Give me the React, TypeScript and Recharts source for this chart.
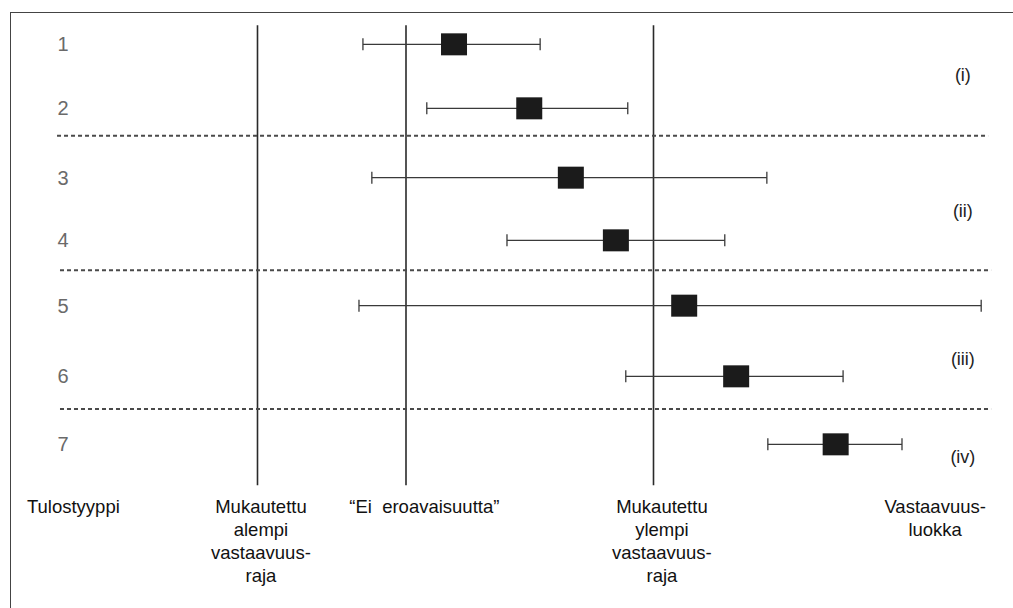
import React from 'react';
import { ComposedChart, Scatter, XAxis, YAxis, ErrorBar, ReferenceLine } from 'recharts';

// ---- data ----
const rowLabels = ['1', '2', '3', '4', '5', '6', '7'];
const rowPos = [1.0, 1.96, 3.0, 3.94, 4.92, 5.98, 7.0];
const estimates = [0.97, 2.49, 3.33, 4.24, 5.62, 6.67, 8.68];
const lowerCI = [-0.87, 0.42, -0.69, 2.04, -0.95, 4.44, 7.31];
const upperCI = [2.71, 4.48, 7.29, 6.44, 11.62, 8.83, 10.02];

const marginLower = -3;
const noDifference = 0;
const marginUpper = 5;
const vLineTop = 0.715;
const vLineBottom = 7.615;

const separatorPos = [2.37, 4.39, 6.47];
const separatorStart = [-7.05, -6.99, -6.99];
const separatorEnd = [11.76, 11.82, 11.82];

const groupLabels = ['(i)', '(ii)', '(iii)', '(iv)'];
const groupPos = [1.46, 3.5, 5.72, 7.19];
const groupX = 11.25;

const rowLabelX = -6.93;

const bottomLabels = [
  ['Tulostyyppi'],
  ['Mukautettu', 'alempi', 'vastaavuus-', 'raja'],
  ['\u201cEi  eroavaisuutta\u201d'],
  ['Mukautettu', 'ylempi', 'vastaavuus-', 'raja'],
  ['Vastaavuus-', 'luokka'],
];
const bottomLabelX = [-6.72, -2.93, 0.37, 5.17, 10.69];
const bottomLabelY = 7.93;

// ---- derived tables ----
const studyData = rowLabels.map((label, i) => ({
  label,
  x: estimates[i],
  y: rowPos[i],
  err: [estimates[i] - lowerCI[i], upperCI[i] - estimates[i]],
}));
const rowLabelData = rowLabels.map((label, i) => ({ x: rowLabelX, y: rowPos[i], label }));
const groupData = groupLabels.map((label, i) => ({ x: groupX, y: groupPos[i], label }));
const bottomData = bottomLabels.map((lines, i) => ({ x: bottomLabelX[i], y: bottomLabelY, lines }));
const vLines = [marginLower, noDifference, marginUpper];

const FONT = '"Liberation Sans", Arial, Helvetica, sans-serif';

const Square = (p: any) => (
  <rect x={p.cx - 13} y={p.cy - 11} width={26} height={22} fill="#1b1b1b" />
);

const RowText = (p: any) => (
  <text x={p.cx} y={p.cy} textAnchor="middle" dominantBaseline="central" fontSize={20} fill="#6a6a6a" fontFamily={FONT}>
    {p.payload.label}
  </text>
);

const GroupText = (p: any) => (
  <text x={p.cx} y={p.cy} textAnchor="middle" dominantBaseline="central" fontSize={18} fill="#222" fontFamily={FONT}>
    {p.payload.label}
  </text>
);

const BottomText = (p: any) => (
  <g>
    {p.payload.lines.map((line: string, i: number) => (
      <text key={i} x={p.cx} y={p.cy + i * 23} textAnchor="middle" dominantBaseline="central" fontSize={18.5} fill="#111" fontFamily={FONT} style={{ whiteSpace: 'pre' }}>
        {line}
      </text>
    ))}
  </g>
);

export default function App() {
  return (
    <div style={{ position: 'absolute', left: 0, top: 0, width: 1013, height: 608, overflow: 'hidden', background: '#fff' }}>
      <div style={{ position: 'absolute', left: 10, top: 12, width: 1100, height: 700, border: '1.5px solid #444' }} />
      <div style={{ position: 'absolute', left: 0, top: 0 }}>
        <ComposedChart width={1013} height={608} margin={{ top: 11, right: 13, bottom: 7, left: 10 }}>
          <XAxis type="number" dataKey="x" domain={[-8, 12]} hide allowDataOverflow />
          <YAxis type="number" dataKey="y" domain={[0.5, 9.35]} reversed hide allowDataOverflow />
          {vLines.map((v) => (
            <ReferenceLine
              key={'v' + v}
              segment={[{ x: v, y: vLineTop }, { x: v, y: vLineBottom }]}
              stroke="#2a2a2a"
              strokeWidth={1.6}
            />
          ))}
          {separatorPos.map((s, i) => (
            <ReferenceLine
              key={'s' + i}
              segment={[{ x: separatorStart[i], y: s }, { x: separatorEnd[i], y: s }]}
              stroke="#4a4a4a"
              strokeWidth={2}
              strokeDasharray="4 3"
            />
          ))}
          <Scatter data={studyData} shape={Square} isAnimationActive={false}>
            <ErrorBar dataKey="err" direction="x" width={6} stroke="#3a3a3a" strokeWidth={1.3} isAnimationActive={false} />
          </Scatter>
          <Scatter data={rowLabelData} shape={RowText} isAnimationActive={false} />
          <Scatter data={groupData} shape={GroupText} isAnimationActive={false} />
          <Scatter data={bottomData} shape={BottomText} isAnimationActive={false} />
        </ComposedChart>
      </div>
    </div>
  );
}
